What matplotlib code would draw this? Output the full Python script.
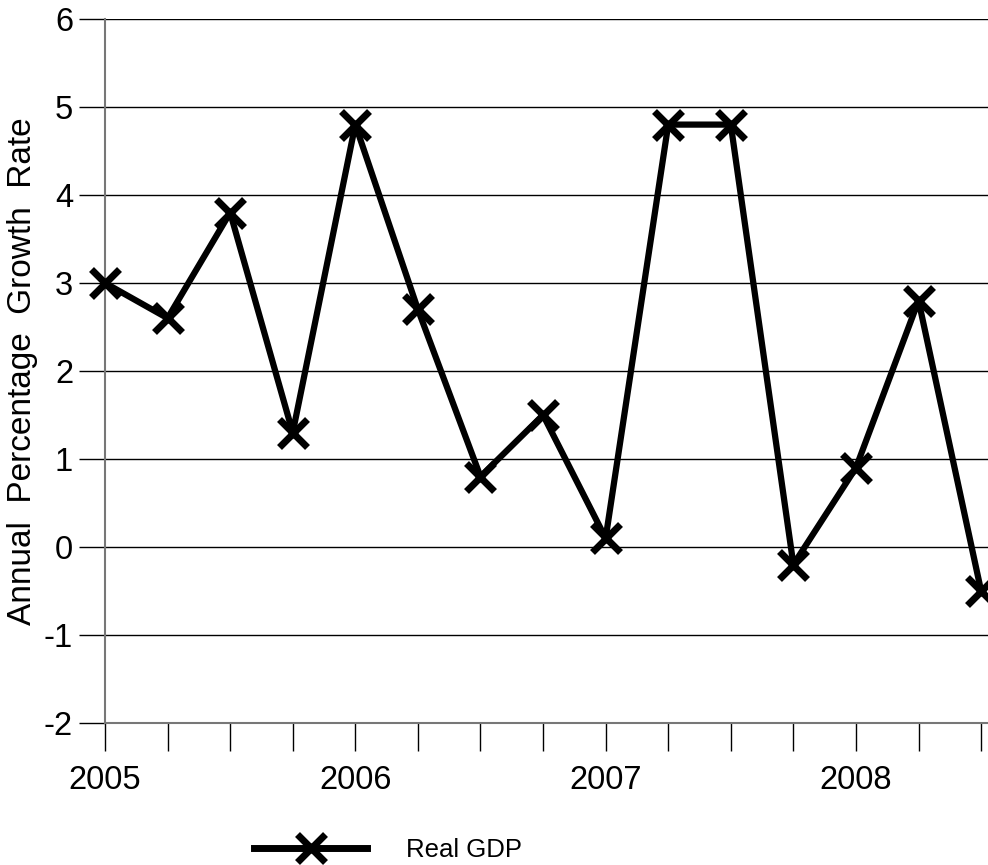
import matplotlib
matplotlib.use("Agg")
import matplotlib.pyplot as plt
from matplotlib.lines import Line2D

# quarterly real GDP growth, 2005Q1 .. 2008Q3
quarters = list(range(15))
gdp = [3.0, 2.6, 3.8, 1.3, 4.8, 2.7, 0.8, 1.5, 0.1, 4.8, 4.8, -0.2, 0.9, 2.8, -0.5]
year_ticks = [0, 4, 8, 12]
year_labels = ["2005", "2006", "2007", "2008"]
y_ticks = [-2, -1, 0, 1, 2, 3, 4, 5, 6]

plt.rcParams["font.family"] = ["Liberation Sans", "DejaVu Sans"]

fig = plt.figure(figsize=(9.88, 8.65), dpi=100)
ax = fig.add_axes([105 / 988, (865 - 723) / 865, 883 / 988, (723 - 19) / 865])

# horizontal grid lines
for v in y_ticks:
    ax.axhline(v, color="black", lw=1.0, zorder=1)

ax.plot(quarters, gdp, color="black", lw=4.5, marker="x", markersize=20,
        markeredgewidth=5, zorder=3, clip_on=False)

ax.set_xlim(0, 14.11)
ax.set_ylim(-2, 6)
ax.set_yticks(y_ticks)
ax.set_yticklabels([str(v) for v in y_ticks], fontsize=23.5)
ax.set_xticks(quarters)
ax.set_xticklabels([year_labels[year_ticks.index(q)] if q in year_ticks else "" for q in quarters],
                   fontsize=23.5)
ax.tick_params(axis="y", direction="out", length=19, width=1.0, color="black", pad=4)
ax.tick_params(axis="x", direction="out", length=20, width=1.0, color="black", pad=10)

for side in ["top", "right"]:
    ax.spines[side].set_visible(False)
ax.spines["left"].set_color("#777777")
ax.spines["bottom"].set_color("#777777")
ax.spines["left"].set_linewidth(1.5)
ax.spines["bottom"].set_linewidth(1.5)

ax.set_ylabel("Annual  Percentage  Growth  Rate", fontsize=24, labelpad=4)

handle = Line2D([], [], color="black", lw=5, marker="x", markersize=20, markeredgewidth=5)
fig.legend([handle], ["Real GDP"], loc="center", bbox_to_anchor=(388 / 988, 1 - 850 / 865),
           frameon=False, fontsize=18.5, handlelength=4.4, handletextpad=1.5)

fig.savefig("out.png", dpi=100)
